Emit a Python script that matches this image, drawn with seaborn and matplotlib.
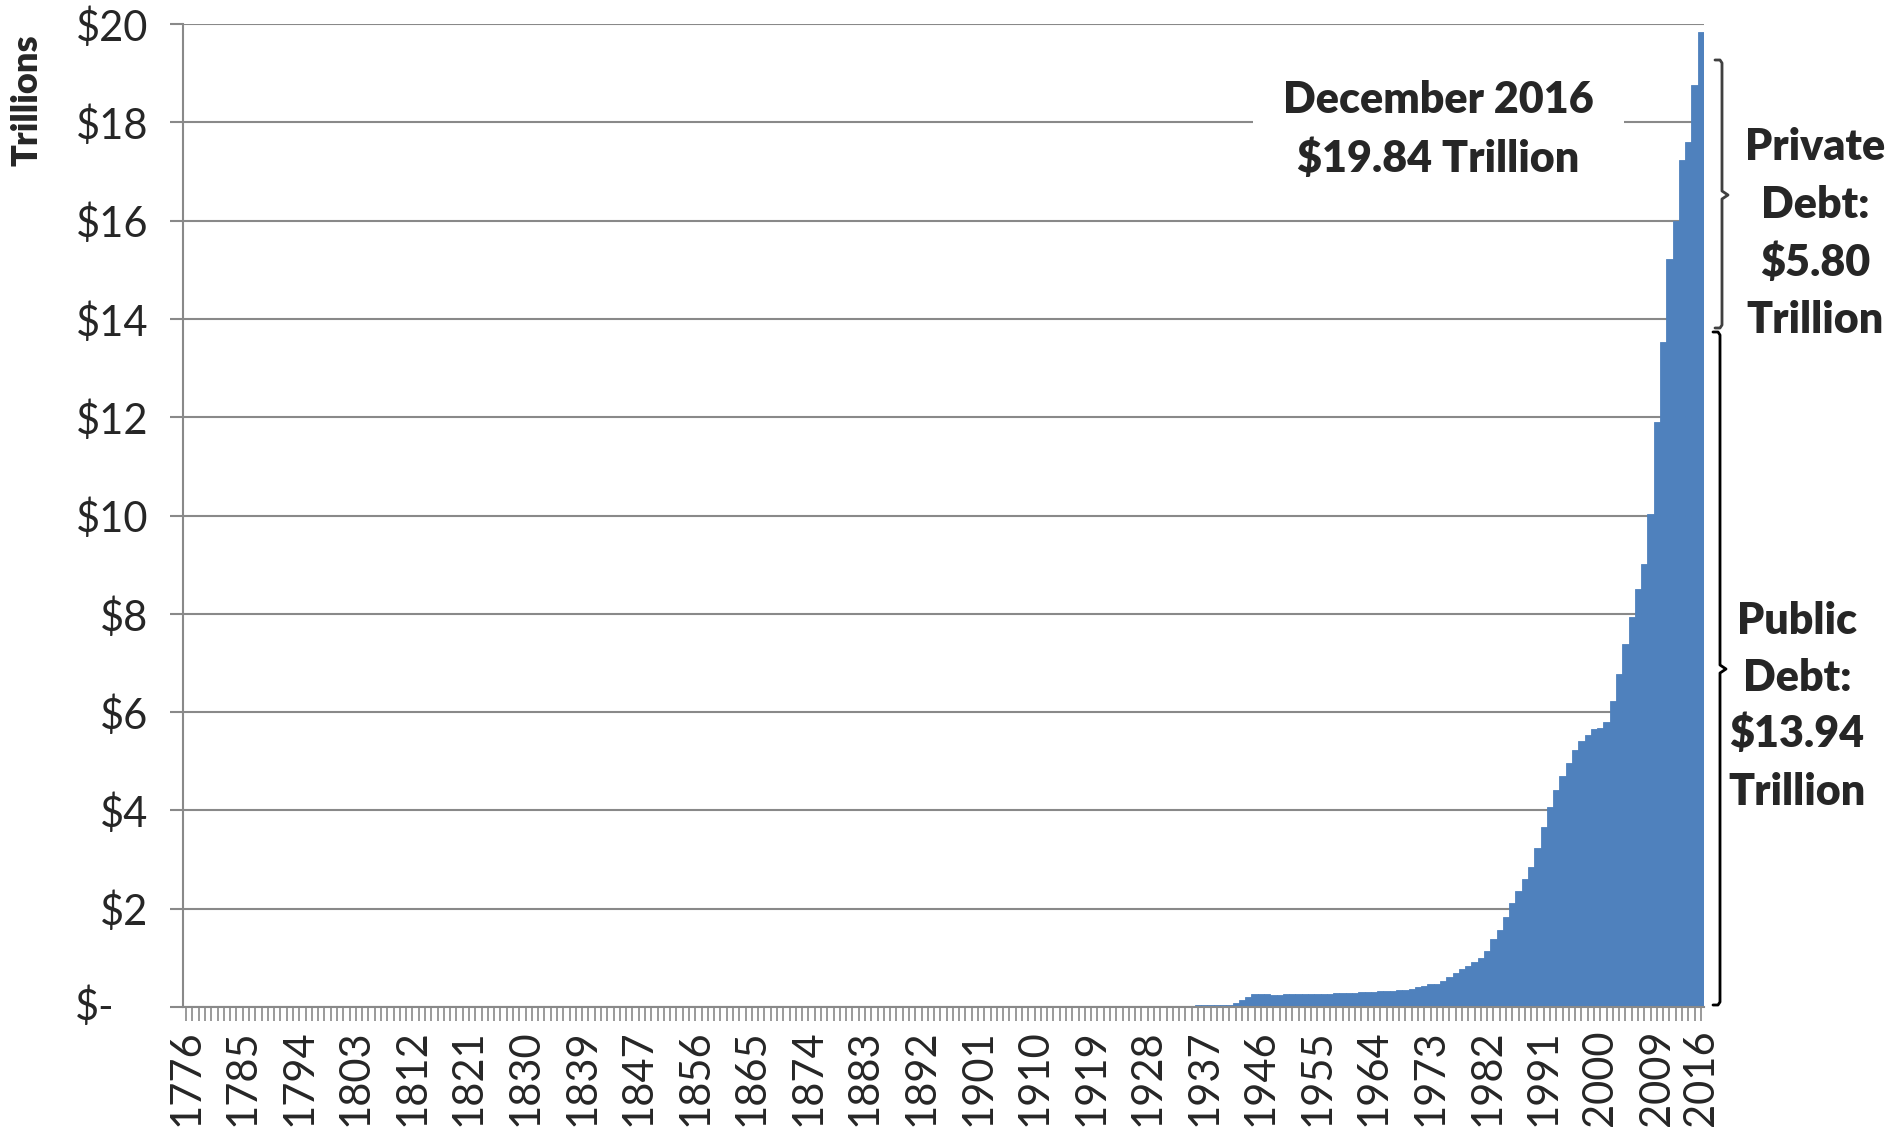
import numpy as np
import pandas as pd
import seaborn as sns
import matplotlib
matplotlib.use("Agg")
import matplotlib.pyplot as plt
from matplotlib import transforms
from matplotlib.lines import Line2D

# ---------------------------------------------------------------------------
# Gross U.S. federal debt outstanding, trillions of dollars, 1776-2016.
# The 1843 fiscal-year change gives two entries for that year.
# ---------------------------------------------------------------------------
years = [str(y) for y in range(1776, 1844)] + [str(y) for y in range(1843, 2017)]

debt_1776_1789 = [np.nan] * 14

debt_1790_1849 = [
    0.000071, 0.000075, 0.000077, 0.000080, 0.000078, 0.000081, 0.000084, 0.000083, 0.000079, 0.000078,
    0.000083, 0.000083, 0.000081, 0.000077, 0.000086, 0.000082, 0.000076, 0.000069, 0.000065, 0.000057,
    0.000053, 0.000048, 0.000045, 0.000056, 0.000082, 0.000100, 0.000127, 0.000123, 0.000103, 0.000096,
    0.000092, 0.000090, 0.000094, 0.000091, 0.000090, 0.000084, 0.000081, 0.000074, 0.000068, 0.000058,
    0.000049, 0.000039, 0.000024, 0.000007, 0.000005, 0.00000004, 0.0000003, 0.0000034, 0.000010, 0.0000035,
    0.0000036, 0.0000051, 0.000014, 0.000021, 0.000033, 0.000023, 0.000016, 0.000016, 0.000039, 0.000048,
    0.000063,
]

debt_1850_1899 = [
    0.000063, 0.000068, 0.000066, 0.000060, 0.000042, 0.000036, 0.000032, 0.000029, 0.000045, 0.000059,
    0.000065, 0.000091, 0.000524, 0.001120, 0.001816, 0.002678, 0.002756, 0.002651, 0.002583, 0.002546,
    0.002436, 0.002322, 0.002210, 0.002151, 0.002160, 0.002157, 0.002131, 0.002108, 0.002159, 0.002299,
    0.002091, 0.002020, 0.001857, 0.001722, 0.001626, 0.001579, 0.001556, 0.001466, 0.001385, 0.001250,
    0.001122, 0.001006, 0.000968, 0.000961, 0.001017, 0.001097, 0.001223, 0.001227, 0.001233, 0.001437,
]

debt_1900_1949 = [
    0.001263, 0.001222, 0.001179, 0.001159, 0.001136, 0.001132, 0.001143, 0.001147, 0.001178, 0.001148,
    0.001147, 0.001154, 0.001194, 0.001193, 0.001188, 0.001191, 0.001225, 0.002976, 0.012455, 0.025485,
    0.024300, 0.023977, 0.022963, 0.022350, 0.021251, 0.020516, 0.019643, 0.018512, 0.017604, 0.016931,
    0.016185, 0.016801, 0.019487, 0.022539, 0.027053, 0.028701, 0.033779, 0.036425, 0.037165, 0.040440,
    0.042968, 0.048961, 0.072422, 0.136696, 0.201003, 0.258682, 0.269422, 0.258286, 0.252292, 0.252770,
]

debt_1950_1999 = [
    0.257357, 0.255222, 0.259105, 0.266071, 0.271260, 0.274374, 0.272751, 0.270527, 0.276343, 0.284706,
    0.286331, 0.288971, 0.298201, 0.305860, 0.311713, 0.317274, 0.319907, 0.326221, 0.347578, 0.353720,
    0.370919, 0.398130, 0.427260, 0.458142, 0.475060, 0.533189, 0.620433, 0.698840, 0.771544, 0.826519,
    0.907701, 0.997855, 1.142034, 1.377210, 1.572266, 1.823103, 2.125303, 2.350277, 2.602338, 2.857431,
    3.233313, 3.665303, 4.064621, 4.411489, 4.692750, 4.973983, 5.224811, 5.413146, 5.526193, 5.656271,
]

debt_2000_2016 = [
    5.674, 5.807, 6.228, 6.783, 7.379, 7.933, 8.507, 9.008, 10.025, 11.91,
    13.54, 15.22, 16.00, 17.23, 17.60, 18.75, 19.84,
]

debt = debt_1776_1789 + debt_1790_1849 + debt_1850_1899 + debt_1900_1949 + debt_1950_1999 + debt_2000_2016

# Split of the December 2016 total
public_debt = 13.94
private_debt = 5.80
total_debt = debt[-1]

y_ticks = list(range(0, 21, 2))
y_tick_labels = [f"${v}" for v in y_ticks]
y_tick_labels[0] = ""          # zero is written separately as "$-"

# ---------------------------------------------------------------------------
W, H, DPI = 1891, 1127, 100
PT = 72 / DPI                   # points per pixel

BAR = "#4F81BD"
GRID = "#898989"
TICK_SIZE = 30
NOTE_SIZE = 31
HEAVY = "heavy"

sns.set_style("white")
plt.rcParams["font.family"] = ["Lato", "DejaVu Sans"]

fig = plt.figure(figsize=(W / DPI, H / DPI), dpi=DPI)
ax = fig.add_axes([183 / W, 1 - 1007 / H, (1704 - 183) / W, (1007 - 24) / H])

df = pd.DataFrame({"pos": np.arange(len(years)), "year": years, "debt": debt})
sns.barplot(data=df, x="pos", y="debt", native_scale=True, width=1.0,
            color=BAR, saturation=1, linewidth=0.6, edgecolor=BAR,
            errorbar=None, ax=ax)

n = len(years)
ax.set_xlim(-0.5, n - 0.5)
ax.set_ylim(0, 20)
ax.set_xlabel("")
ax.set_ylabel("")

# Category axis: a tick for every year, label every ninth plus the last one
ax.set_xticks(np.arange(n))
ax.set_xticklabels([years[i] if (i % 9 == 0 or i == n - 1) else "" for i in range(n)],
                   rotation=90, fontsize=TICK_SIZE)
ax.tick_params(axis="x", length=14 * PT, width=1.2, color=GRID, pad=8 * PT, direction="out",
               bottom=True)

ax.set_yticks(y_ticks)
ax.set_yticklabels(y_tick_labels, fontsize=TICK_SIZE)
ax.tick_params(axis="y", length=13 * PT, width=1.5, color=GRID, pad=22 * PT, direction="out",
               left=True)

ax.yaxis.grid(True, color=GRID, linewidth=1.5)
ax.xaxis.grid(False)
ax.set_axisbelow(True)

for side in ("top", "right"):
    ax.spines[side].set_visible(False)
for side in ("left", "bottom"):
    ax.spines[side].set_color(GRID)
    ax.spines[side].set_linewidth(1.5)

# Accounting-style zero label
zero_tf = transforms.offset_copy(ax.get_yaxis_transform(), fig=fig, x=-68, y=0, units="dots")
ax.text(0, 0, "$-", transform=zero_tf, ha="right", va="center", fontsize=TICK_SIZE)

# Axis title
fig.text(27 / W, 1 - 100 / H, "Trillions", rotation=90, ha="center", va="center",
         fontsize=26, fontweight=HEAVY)

# Total annotation with white backing over the gridline
box = dict(boxstyle="square,pad=0.7", facecolor="white", edgecolor="none")
ax.text(199.2, 17.86, f"December 2016\n${total_debt:.2f} Trillion", ha="center", va="center",
        fontsize=NOTE_SIZE, fontweight=HEAVY, linespacing=1.55, bbox=box, zorder=4)


def px(x, y):
    return x / W, 1 - y / H


def brace(x, top, mid, bot, color):
    hook, bend, tip = 7, 3, 6
    xs = [x - hook, x - 2, x, x, x + tip, x, x, x - 2, x - hook]
    ys = [top, top, top + bend, mid - 4, mid, mid + 4, bot - bend, bot, bot]
    fx = [px(a, b)[0] for a, b in zip(xs, ys)]
    fy = [px(a, b)[1] for a, b in zip(xs, ys)]
    fig.add_artist(Line2D(fx, fy, color=color, linewidth=2.8 * PT,
                          solid_joinstyle="round", solid_capstyle="round"))


# Brackets for the private and public portions
brace(1722, 60, 195, 328, "#404040")
brace(1720, 332, 669, 1005, "#000000")

private_lines = ["Private", "Debt:", f"${private_debt:.2f}", "Trillion"]
public_lines = ["Public", "Debt:", f"${public_debt:.2f}", "Trillion"]

for line, yy in zip(private_lines, [147, 205, 263, 320]):
    fig.text(*px(1815, yy), line, ha="center", va="center", fontsize=NOTE_SIZE, fontweight=HEAVY)
for line, yy in zip(public_lines, [621, 678, 734, 792]):
    fig.text(*px(1797, yy), line, ha="center", va="center", fontsize=NOTE_SIZE, fontweight=HEAVY)

fig.savefig("out.png", dpi=DPI, facecolor="white")
